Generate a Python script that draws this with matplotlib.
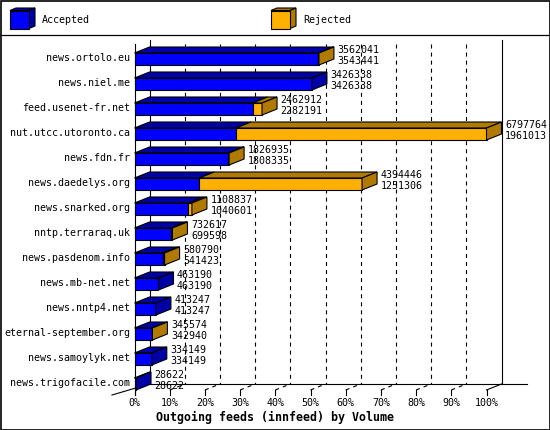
import matplotlib
matplotlib.use("Agg")
import matplotlib.pyplot as plt
from matplotlib.patches import Polygon, Rectangle

hosts = ["news.ortolo.eu", "news.niel.me", "feed.usenet-fr.net", "nut.utcc.utoronto.ca",
         "news.fdn.fr", "news.daedelys.org", "news.snarked.org", "nntp.terraraq.uk",
         "news.pasdenom.info", "news.mb-net.net", "news.nntp4.net", "eternal-september.org",
         "news.samoylyk.net", "news.trigofacile.com"]
totals = [3562041, 3426338, 2462912, 6797764, 1826935, 4394446, 1108837, 732617,
          580790, 463190, 413247, 345574, 334149, 28622]
accepted = [3543441, 3426338, 2282191, 1961013, 1808335, 1251306, 1040601, 699598,
            541423, 463190, 413247, 342940, 334149, 28622]
ticks = [0, 10, 20, 30, 40, 50, 60, 70, 80, 90, 100]
tick_labels = [f"{t}%" for t in ticks]
title = "Outgoing feeds (innfeed) by Volume"

blue, blue_dark = "#0000ff", "#0000a8"
orange, orange_dark = "#ffb000", "#b07a00"
font = "DejaVu Sans Mono"
plt.rcParams["lines.scale_dashes"] = False

W, H = 550, 430
fig = plt.figure(figsize=(W / 100, H / 100), dpi=100)
fig.patch.set_facecolor("white")

# decoration layer in pixel units (frame + legend)
deco = fig.add_axes([0, 0, 1, 1], zorder=0)
deco.set_xlim(0, W)
deco.set_ylim(H, 0)
deco.axis("off")
deco.add_patch(Rectangle((0.5, 0.5), W - 1, H - 1, fill=False, ec="black", lw=1.2))
deco.plot([0, W], [35, 35], color="black", lw=0.9)


def cube(x, y, front, dark):
    w, h, dx, dy = 19, 18, 6, 2.5
    deco.add_patch(Polygon([(x, y), (x + w, y), (x + w + dx, y - dy), (x + dx, y - dy)],
                           fc=dark, ec="black", lw=0.8))
    deco.add_patch(Polygon([(x + w, y), (x + w + dx, y - dy), (x + w + dx, y + h - dy), (x + w, y + h)],
                           fc=dark, ec="black", lw=0.8))
    deco.add_patch(Rectangle((x, y), w, h, fc=front, ec="black", lw=0.8))


cube(10, 10.5, blue, blue_dark)
deco.text(42, 20, "Accepted", family=font, fontsize=7.2, va="center")
cube(271, 10.5, orange, orange_dark)
deco.text(303, 20, "Rejected", family=font, fontsize=7.2, va="center")

# main plot: x in percent, y in rows (25 px each)
ax = fig.add_axes([134.5 / W, (H - 390) / H, 352 / W, 346 / H], zorder=1)
ax.set_xlim(0, 100)
ax.set_ylim(13.24, -0.6)
ax.axis("off")
ax.patch.set_alpha(0)

dx = 15 / 3.52
dy = 6 / 25
hh = 6 / 25
floor_front = len(hosts) - 1 + hh
floor_back = floor_front - dy
kw = dict(clip_on=False, color="black", lw=0.8)

# walls, grid and floor
ax.plot([0, 0], [-0.6, floor_front + 0.2], **kw)
ax.plot([dx, dx], [-0.76, floor_back], **kw)
ax.plot([100 + dx, 100 + dx], [-0.76, floor_back], **kw)
ax.plot([dx, 111.5], [floor_back, floor_back], **kw)
ax.plot([100, 100 + dx], [floor_front, floor_back], **kw)
ax.plot([-6.4, dx], [floor_front + 0.2, floor_back], **kw)
for t in ticks[1:-1]:
    ax.plot([t + dx, t + dx], [-0.6, floor_back], ls=(0, (2.9, 2.9)), **kw)
    ax.plot([t, t + dx], [floor_front, floor_back], ls=(0, (2.9, 2.9)), **kw)
for t, lab in zip(ticks, tick_labels):
    ax.plot([t, t], [floor_front, floor_front + 0.2], **kw)
    ax.text(t, floor_front + 0.52, lab, family=font, fontsize=7.2, ha="center", va="center")

top = max(totals)
for i, (name, tot, acc) in enumerate(zip(hosts, totals, accepted)):
    a = acc / top * 100
    e = tot / top * 100
    y0, y1, yb = i - hh, i + hh, i - hh - dy
    segs = [(0, a, blue, blue_dark)]
    if e > a:
        segs.append((a, e, orange, orange_dark))
    for s0, s1, fc, dc in segs:
        ax.add_patch(Polygon([(s0, y0), (s1, y0), (s1 + dx, yb), (s0 + dx, yb)],
                             fc=dc, ec="black", lw=0.8, clip_on=False, zorder=3))
        ax.add_patch(Rectangle((s0, y0), s1 - s0, 2 * hh, fc=fc, ec="black", lw=0.8,
                               clip_on=False, zorder=3))
    side = segs[-1][3]
    ax.add_patch(Polygon([(e, y0), (e + dx, yb), (e + dx, y1 - dy), (e, y1)],
                         fc=side, ec="black", lw=0.8, clip_on=False, zorder=3))
    ax.text(-1.28, i - 0.04, name, family=font, fontsize=7.2, ha="right", va="center")
    ax.text(e + dx + 1.0, i - 0.36, str(tot), family=font, fontsize=7.2, va="center", zorder=4)
    ax.text(e + dx + 1.0, i + 0.08, str(acc), family=font, fontsize=7.2, va="center", zorder=4)

fig.text(0.5, 1 - 417 / H, title, family=font, fontsize=8.4, weight="bold", ha="center", va="center")

fig.savefig("out.png", dpi=100)
